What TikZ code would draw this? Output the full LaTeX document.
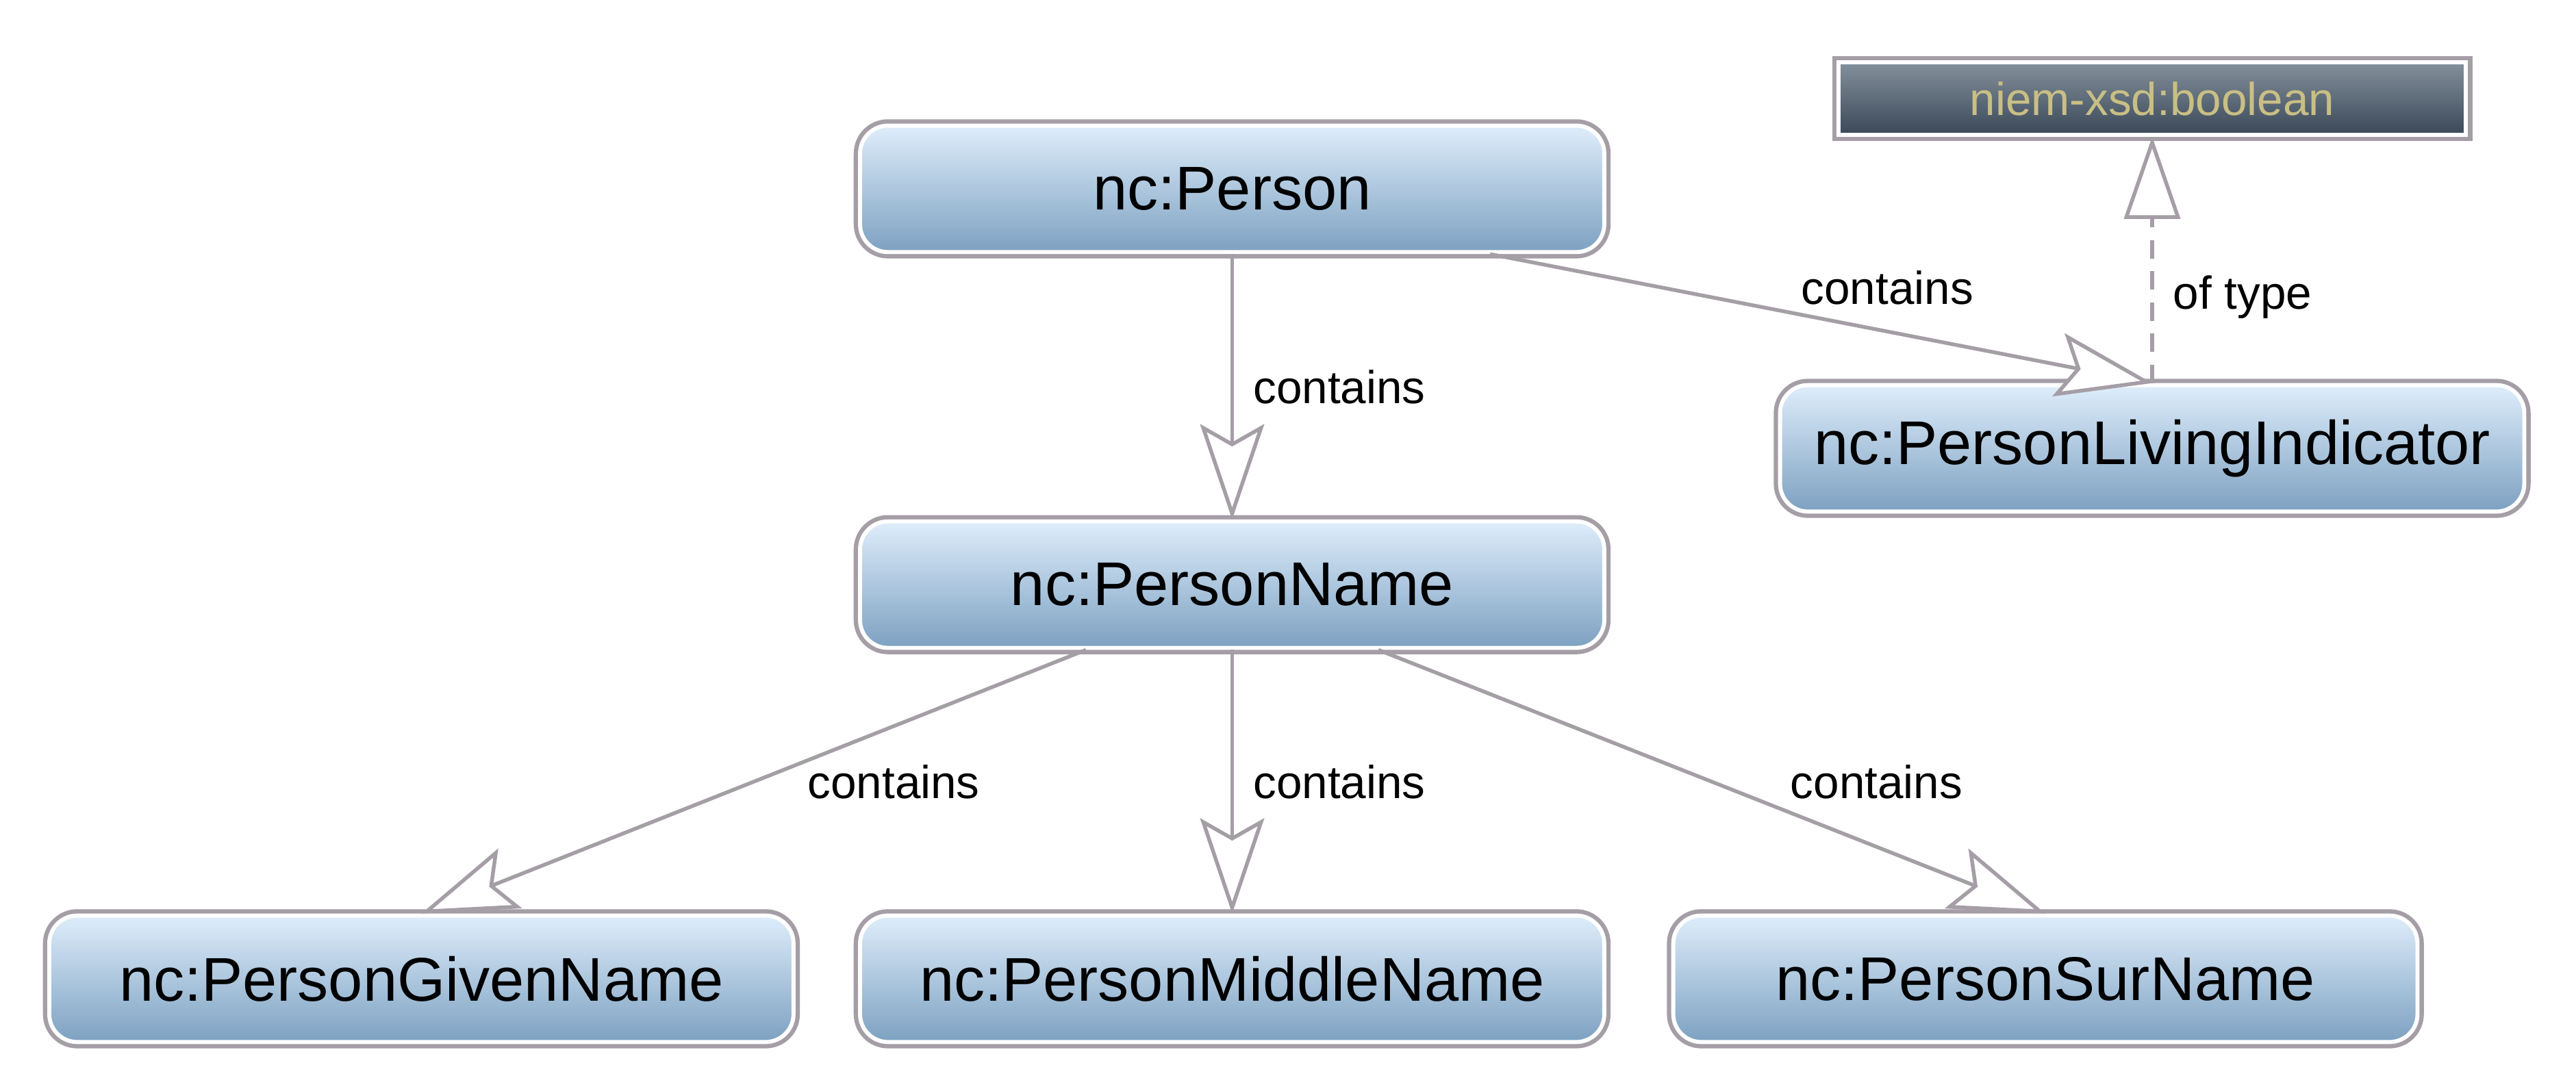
\documentclass[tikz,border=0pt]{standalone}
\usepackage{fontspec}
\setmainfont{Liberation Sans}
\usepackage{tikz}
\usetikzlibrary{arrows.meta, positioning, calc}
\definecolor{elemTop}{HTML}{DEEDFB}
\definecolor{elemBottom}{HTML}{7DA1C1}
\definecolor{elemEdge}{HTML}{A59EA6}
\definecolor{typeTop}{HTML}{84909B}
\definecolor{typeBottom}{HTML}{3A4858}
\definecolor{typeText}{HTML}{C9BF85}

\begin{document}
\begin{tikzpicture}[
  font=\fontsize{8pt}{10pt}\selectfont,
  elem/.style={rounded corners=1.7mm, top color=elemTop, bottom color=elemBottom, draw=white, line width=0.7pt,
               preaction={draw=elemEdge, line width=2.2pt},
               minimum width=4.53cm, minimum height=0.77cm, text=black,
               font=\fontsize{10.7pt}{13pt}\selectfont},
  typebox/.style={top color=typeTop, bottom color=typeBottom, draw=white, line width=0.7pt,
                  preaction={draw=elemEdge, line width=2.2pt},
                  minimum width=3.82cm, minimum height=0.41cm, text=typeText},
  lbl/.style={text=black},
  a/.style={-{Stealth[open, fill=white, length=5.8mm, width=3.9mm, inset=1.1mm]}, draw=elemEdge, line width=0.65pt},
  tp/.style={-{Triangle[open, fill=white, length=5mm, width=3.4mm]}, draw=elemEdge, line width=0.65pt,
             dash pattern=on 3.2pt off 2.2pt}
]
\useasboundingbox (0,0) rectangle (15.68,-6.55);
\node[typebox] (boolean) at (13.10,-0.60) {niem-xsd:boolean};
\node[elem] (person) at (7.50,-1.15) {nc:Person};
\node[elem] (living) at (13.10,-2.73) {nc:PersonLivingIndicator};
\node[elem] (pname) at (7.50,-3.56) {nc:PersonName};
\node[elem] (given) at (2.565,-5.96) {nc:PersonGivenName};
\node[elem] (middle) at (7.50,-5.96) {nc:PersonMiddleName};
\node[elem] (sur) at (12.45,-5.96) {nc:PersonSurName};
\draw[a] (person) -- node[lbl, right] {contains} (pname);
\draw[a] ([xshift=1.57cm]person.south) -- node[lbl, pos=0.6, above=1pt] {contains} (living.north);
\draw[tp] (living.north) -- node[lbl, pos=0.35, right] {of type} (boolean);
\draw[a] ([xshift=-0.89cm]pname.south) -- node[lbl, right=2mm] {contains} (given.north);
\draw[a] (pname) -- node[lbl, right] {contains} (middle);
\draw[a] ([xshift=0.89cm]pname.south) -- node[lbl, right=3.5mm] {contains} (sur.north);
\end{tikzpicture}
\end{document}
